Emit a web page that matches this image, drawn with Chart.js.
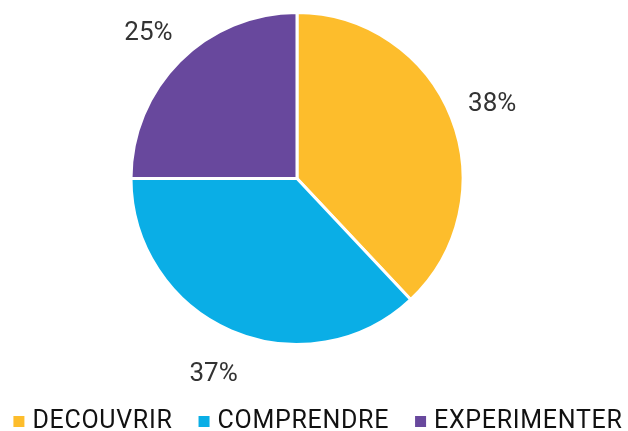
<!DOCTYPE html>
<html><head><meta charset="utf-8">
<script src="https://cdn.jsdelivr.net/npm/chart.js@4/dist/chart.umd.min.js"></script>
<style>html,body{margin:0;padding:0;background:#fff;}#wrap{width:628px;height:431px;}</style>
</head><body><div id="wrap"><canvas id="c" width="628" height="431"></canvas></div>
<script>
const categories = ["DECOUVRIR", "COMPRENDRE", "EXPERIMENTER"];
const values = [38, 37, 25];
const valueLabels = ["38%", "37%", "25%"];
const colors = ["#FDBD2C", "#0AAEE6", "#68489D"];

const outsideLabels = {
  id: 'outsideLabels',
  afterDatasetsDraw(chart) {
    const ctx = chart.ctx;
    const meta = chart.getDatasetMeta(0);
    ctx.save();
    ctx.font = '400 26px Roboto';
    ctx.fillStyle = '#333333';
    ctx.textAlign = 'center';
    ctx.textBaseline = 'middle';
    meta.data.forEach((arc, i) => {
      const p = arc.getProps(['x','y','startAngle','endAngle','outerRadius'], true);
      const mid = (p.startAngle + p.endAngle) / 2;
      const r = p.outerRadius + 44;
      ctx.fillText(valueLabels[i], p.x + Math.cos(mid) * r, p.y + Math.sin(mid) * r + 3);
    });
    ctx.restore();
  }
};

const bottomLegend = {
  id: 'bottomLegend',
  afterDraw(chart) {
    const ctx = chart.ctx;
    const ds = chart.data.datasets[0];
    ctx.save();
    ctx.font = "400 25px Roboto, sans-serif";
    try { ctx.letterSpacing = '0.7px'; } catch (e) {}
    ctx.textBaseline = 'alphabetic';
    ctx.textAlign = 'left';
    const box = 11, gapBox = 8, gapItem = 26;
    const widths = chart.data.labels.map(t => ctx.measureText(t).width);
    const total = widths.reduce((a, w) => a + box + gapBox + w, 0) + gapItem * (widths.length - 1);
    let x = (chart.width - total) / 2 + 4;
    chart.data.labels.forEach((t, i) => {
      ctx.fillStyle = ds.backgroundColor[i];
      ctx.fillRect(x, 416, box, box);
      x += box + gapBox;
      ctx.fillStyle = '#111111';
      ctx.fillText(t, x, 428);
      x += widths[i] + gapItem;
    });
    ctx.restore();
  }
};

new Chart(document.getElementById('c'), {
  type: 'pie',
  data: {
    labels: categories,
    datasets: [{ data: values, backgroundColor: colors, borderColor: '#ffffff', borderWidth: 3 }]
  },
  options: {
    responsive: false,
    animation: false,
    layout: { padding: { top: 11, left: 0, right: 34, bottom: 85 } },
    plugins: {
      tooltip: { enabled: false },
      legend: { display: false }
    }
  },
  plugins: [outsideLabels, bottomLegend]
});
</script></body></html>
